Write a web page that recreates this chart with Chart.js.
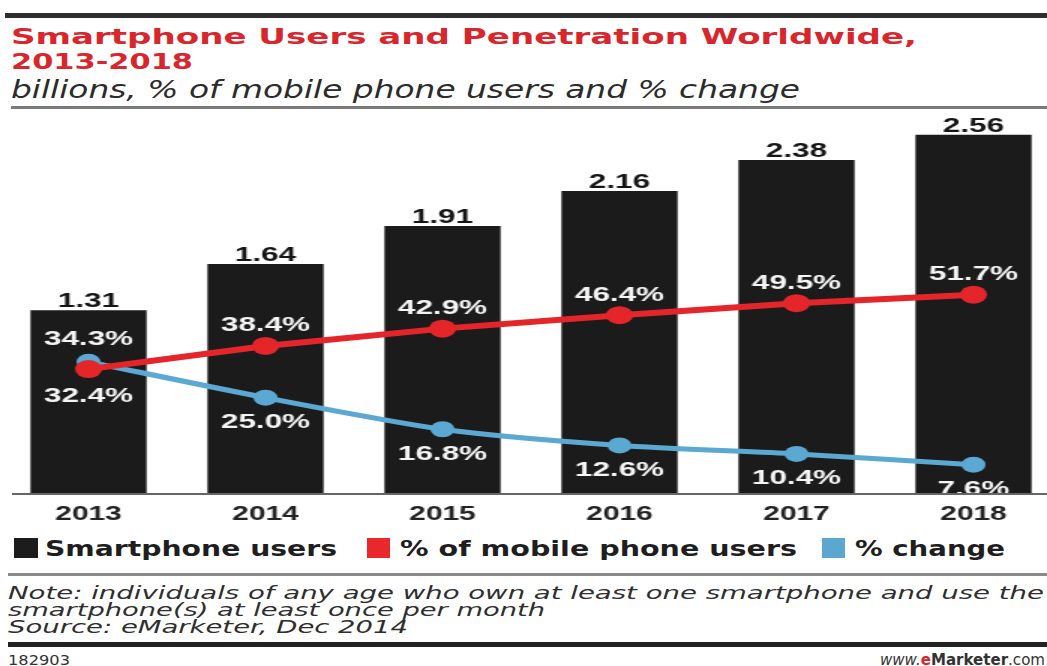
<!DOCTYPE html>
<html>
<head>
<meta charset="utf-8">
<script src="https://cdn.jsdelivr.net/npm/chart.js@4.4.1/dist/chart.umd.min.js"></script>
<style>
html,body{margin:0;padding:0;background:#fff;width:1047px;height:666px;overflow:hidden;position:relative}
.t{position:absolute;white-space:nowrap;transform-origin:0 0;line-height:1}
.r{position:absolute}
#chartBox{position:absolute;left:0;top:100px;width:708px;height:430px;transform:scaleX(1.5);transform-origin:0 0}
</style>
</head>
<body>
<div class="r" style="left:5px;top:13px;width:1042px;height:5px;background:#2e2e2e"></div>
<div class="t fit" data-w="906" style="left:11px;top:24px;font:bold 22px 'DejaVu Sans';color:#d8262c">Smartphone Users and Penetration Worldwide,</div>
<div class="t fit" data-w="182" style="left:11px;top:49px;font:bold 22px 'DejaVu Sans';color:#d8262c">2013-2018</div>
<div class="t fit" data-w="789" style="left:11px;top:76px;font:oblique 24px 'DejaVu Sans';color:#2b2b2b">billions, % of mobile phone users and % change</div>
<div class="r" style="left:11px;top:106px;width:1036px;height:3px;background:#7a7a7a"></div>

<div id="chartBox"><canvas id="c"></canvas></div>
<div class="r" style="left:12px;top:493px;width:1035px;height:2px;background:#666"></div>

<div class="r" style="left:14px;top:538px;width:24px;height:20px;background:#1c1c1c"></div>
<div class="t fit" data-w="292" style="left:45px;top:537px;font:bold 21px 'DejaVu Sans';color:#1e1e1e">Smartphone users</div>
<div class="r" style="left:367px;top:538px;width:23px;height:20px;background:#e8282b"></div>
<div class="t fit" data-w="397" style="left:400px;top:537px;font:bold 21px 'DejaVu Sans';color:#1e1e1e">% of mobile phone users</div>
<div class="r" style="left:822px;top:538px;width:23px;height:20px;background:#5ba7cf"></div>
<div class="t fit" data-w="150" style="left:855px;top:537px;font:bold 21px 'DejaVu Sans';color:#1e1e1e">% change</div>

<div class="r" style="left:8px;top:573px;width:1039px;height:3px;background:#8a8a8a"></div>
<div class="t fit" data-w="1036" style="left:8px;top:582px;font:oblique 18px 'DejaVu Sans';color:#2e2e2e">Note: individuals of any age who own at least one smartphone and use the</div>
<div class="t fit" data-w="537" style="left:8px;top:599px;font:oblique 18px 'DejaVu Sans';color:#2e2e2e">smartphone(s) at least once per month</div>
<div class="t fit" data-w="400" style="left:8px;top:616px;font:oblique 18px 'DejaVu Sans';color:#2e2e2e">Source: eMarketer, Dec 2014</div>
<div class="r" style="left:8px;top:642px;width:1039px;height:5px;background:#222"></div>
<div class="t fit" data-w="62" style="left:8px;top:652px;font:14px 'DejaVu Sans';color:#333">182903</div>
<div class="t fit" data-w="165" style="left:880px;top:651px;font:15px 'DejaVu Sans';color:#333"><span style="font-style:italic">www.</span><span style="color:#d8262c;font-weight:bold">e</span><span style="font-weight:bold">Marketer</span>.com</div>

<script>
// ---- data ----
const years = ['2013', '2014', '2015', '2016', '2017', '2018'];
const smartphoneUsers = [1.31, 1.64, 1.91, 2.16, 2.38, 2.56];      // billions
const pctOfMobileUsers = [32.4, 38.4, 42.9, 46.4, 49.5, 51.7];     // % of mobile phone users
const pctChange = [34.3, 25.0, 16.8, 12.6, 10.4, 7.6];             // % change

// fit HTML text widths
document.querySelectorAll('.fit').forEach(el => {
  const w = el.getBoundingClientRect().width;
  el.style.transform = 'scaleX(' + (parseFloat(el.dataset.w) / w) + ')';
});

const labelFont = 'bold 21px "Liberation Sans"';
const capHalf = 7.5;

const valueLabels = {
  id: 'valueLabels',
  afterDatasetsDraw(chart) {
    const ctx = chart.ctx;
    const barMeta = chart.getDatasetMeta(0);
    const redMeta = chart.getDatasetMeta(1);
    const blueMeta = chart.getDatasetMeta(2);
    ctx.save();
    ctx.font = labelFont;
    ctx.textAlign = 'center';
    ctx.textBaseline = 'alphabetic';
    barMeta.data.forEach((el, i) => {
      ctx.fillStyle = '#151515';
      ctx.fillText(smartphoneUsers[i].toFixed(2), el.x, el.y - 3);
    });
    ctx.fillStyle = '#f5f5f5';
    redMeta.data.forEach((el, i) => {
      const above = pctOfMobileUsers[i] > pctChange[i];
      const cy = above ? el.y - 22 : el.y + 25;
      ctx.fillText(pctOfMobileUsers[i].toFixed(1) + '%', el.x, cy + capHalf);
    });
    blueMeta.data.forEach((el, i) => {
      const above = pctChange[i] > pctOfMobileUsers[i];
      const cy = above ? el.y - 24 : el.y + 23;
      ctx.fillText(pctChange[i].toFixed(1) + '%', el.x, cy + capHalf);
    });
    ctx.restore();
  }
};

new Chart(document.getElementById('c'), {
  data: {
    labels: years,
    datasets: [
      {
        type: 'bar', label: 'Smartphone users', data: smartphoneUsers,
        backgroundColor: '#1b1b1b', yAxisID: 'y', order: 3,
        barPercentage: 0.656, categoryPercentage: 1
      },
      {
        type: 'line', label: '% of mobile phone users', data: pctOfMobileUsers,
        borderColor: '#e4262b', backgroundColor: '#e4262b', borderWidth: 6,
        pointRadius: 9, pointBorderWidth: 0, pointHoverRadius: 9,
        yAxisID: 'y2', order: 1, tension: 0
      },
      {
        type: 'line', label: '% change', data: pctChange,
        borderColor: '#5ba8d2', backgroundColor: '#5ba8d2', borderWidth: 5,
        pointRadius: 8, pointBorderWidth: 0, pointHoverRadius: 8,
        yAxisID: 'y2', order: 2, tension: 0.25
      }
    ]
  },
  options: {
    responsive: true, maintainAspectRatio: false, animation: false,
    layout: { autoPadding: false, padding: { top: 12.4, left: 0, right: 0, bottom: 0 } },
    plugins: { legend: { display: false }, tooltip: { enabled: false } },
    scales: {
      x: {
        type: 'category', offset: true,
        grid: { display: false, drawTicks: false },
        border: { display: false },
        ticks: { font: { family: 'Liberation Sans', weight: 'bold', size: 20 }, color: '#222', padding: 8 },
        afterFit(s) { s.height = 36; }
      },
      y: { display: false, min: 0, max: 2.72 },
      y2: { display: false, min: 0, max: 99, position: 'right' }
    }
  },
  plugins: [valueLabels]
});
</script>
</body>
</html>
